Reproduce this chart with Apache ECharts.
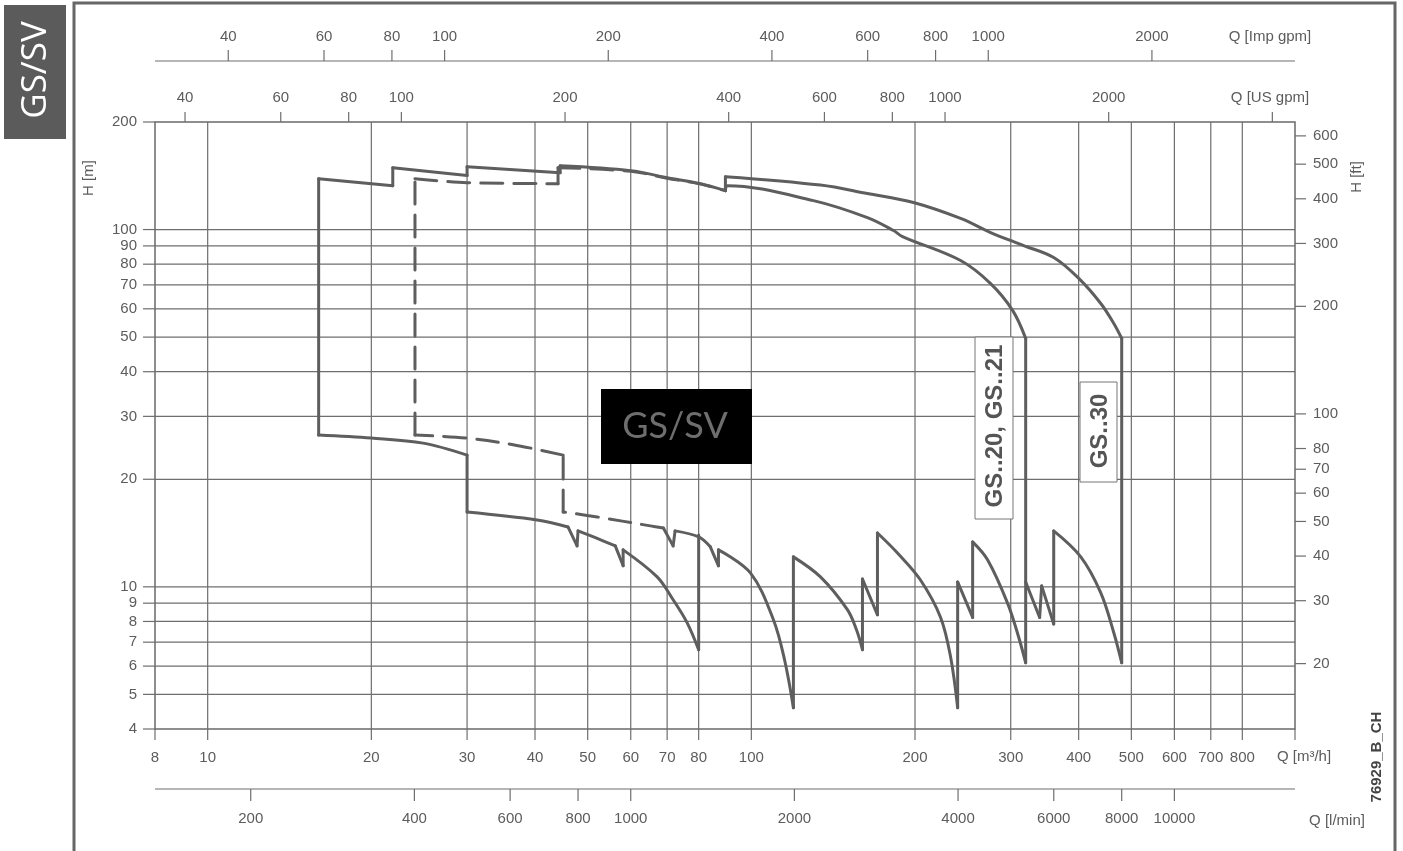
<!DOCTYPE html>
<html><head><meta charset="utf-8">
<script src="https://cdn.jsdelivr.net/npm/echarts@6/dist/echarts.min.js"></script>
<style>html,body{margin:0;padding:0;background:#fff}#c{width:1403px;height:851px}</style>
</head><body><div id="c"></div>
<script>
// ---------- tick / grid values ----------
const qTicksM3h   = [8,10,20,30,40,50,60,70,80,100,200,300,400,500,600,700,800];
const qGridM3h    = [10,20,30,40,50,60,70,80,100,200,300,400,500,600,700,800];
const hTicksM     = [4,5,6,7,8,9,10,20,30,40,50,60,70,80,90,100,200];
const hGridM      = [5,6,7,8,9,10,20,30,40,50,60,70,80,90,100];
const hTicksFt    = [20,30,40,50,60,70,80,100,200,300,400,500,600];
const qTicksUsGpm = [40,60,80,100,200,400,600,800,1000,2000];
const qTicksImpGpm= [40,60,80,100,200,400,600,800,1000,2000];
const qTicksLmin  = [200,400,600,800,1000,2000,4000,6000,8000,10000];

// ---------- curves [Q m3/h, H m]; each chain = list of arcs joined by straight links ----------
const chainSmallFamily = [
  [[89.6,128.5],[80.7,134.4],[70,139.7],[60,146.2],[44.5,150.9]],
  [[44.5,144.3],[30,149.9]],
  [[30,141.6],[21.9,149.0]],
  [[21.9,132.7],[16,138.8]],
  [[16,26.59],[20,26.08],[24.9,25.25],[30,23.37]],
  [[30,16.2],[40.35,15.39],[46.0,14.71]],
  [[47.8,13.02]],
  [[48,14.34],[51.8,13.7],[56.2,13.02]],
  [[58.1,11.45]],
  [[58.1,12.69],[67.1,10.66],[71.8,9.2],[76.2,7.93],[80,6.67]],
  [[80,13.97]]
];
const chainDashed = [
  [[68.9,14.61],[65.2,14.81],[52.06,15.69],[45.07,16.2]],
  [[45.07,23.37],[36.45,25.0],[30,26.08],[24.06,26.59]],
  [[24.06,138.8],[30,135.3],[44.1,134.4]],
  [[44.1,149.0],[60,145.6],[70,139.2],[80.7,134.0],[89.6,128.5]]
];
const chainGS30Top = [
  [[89.6,128.5]],
  [[89.6,140.6],[134,133.2],[163.5,126.1],[198.7,119.0],[242.6,107.4],[275.5,98.1],[316.9,90.2],[359.9,83.5],[400.2,73.0],[439.3,62.1],[464.2,54.6],[480,49.6]],
  [[480,6.13]]
];
const chainGS20Top = [
  [[89.6,128.5],[90.4,132.7],[130.1,120.5],[163.5,108.0],[182.6,99.4],[189.7,95.6],[242.6,81.9],[275.5,70.6],[302.4,59.4],[319.6,49.6]],
  [[319.6,6.13]]
];
const chainBottomA = [
  [[68.9,14.61]],
  [[71.8,13.02]],
  [[72.4,14.34],[80,13.79],[84.05,12.94]],
  [[87,11.45]],
  [[87,12.69],[99.6,10.94],[109.8,8.09],[115.1,6.25],[119.5,4.59]],
  [[119.5,12.13],[134,10.66],[150.2,8.63],[156.1,7.58],[160.1,6.67]],
  [[160.1,10.52],[170.6,8.35]],
  [[170.6,14.15],[185.7,12.44],[204.7,10.45],[222.9,8.21],[232.6,6.35],[239.6,4.59]],
  [[239.6,10.32],[255.3,8.21]],
  [[255.3,13.36],[272.1,11.89],[296.1,8.99],[310.1,7.25],[319.6,6.13]]
];
const chainBottomB = [
  [[319.6,10.32],[339.1,8.21]],
  [[342,10.06],[359.9,7.87]],
  [[359.9,14.34],[403.6,12.13],[439.3,9.62],[464.2,7.44],[480,6.13]]
];

// ---------- unit conversions to m3/h and m ----------
const US_GPM = 0.2271247, IMP_GPM = 0.2727654, LMIN = 0.06, FT = 0.3048;

const X_MIN=8, X_MAX=1000, Y_MIN=4, Y_MAX=200;
const C_LINE='#5e5e5e', C_GRID='#6e6e6e', C_TEXT='#5c5c5c';
const FONT='"Liberation Sans", Arial, sans-serif';

function T(x,y,text,align,va,size,extra){
  return {type:'text', x:x, y:y, silent:true, style:Object.assign({text:text, fill:C_TEXT, fontSize:size||15, fontFamily:FONT, align:align, verticalAlign:va}, extra||{})};
}
function L(x1,y1,x2,y2,w,c){
  return {type:'line', silent:true, shape:{x1:x1,y1:y1,x2:x2,y2:y2}, style:{stroke:c||C_GRID, lineWidth:w||1.2}};
}
function custom(data, render){
  return {type:'custom', coordinateSystem:'cartesian2d', silent:true, clip:false, z:1, animation:false,
    data:data, encode:{x:0,y:1}, renderItem:render};
}

const series = [];
// bottom m3/h axis with vertical grid
series.push(custom(qTicksM3h.map(v=>[v,Y_MIN]), function(p, api){
  const v = api.value(0);
  const b = api.coord([v, Y_MIN]), t = api.coord([v, Y_MAX]);
  const ch = [L(b[0], b[1], b[0], b[1]+11)];
  if (qGridM3h.indexOf(v) >= 0) ch.push(L(b[0], t[1], b[0], b[1]));
  ch.push(T(b[0], b[1]+29, String(v), 'center', 'middle'));
  if (p.dataIndex === 0) { const e = api.coord([X_MAX, Y_MIN]); ch.push(L(e[0], e[1], e[0], e[1]+11)); }
  return {type:'group', children:ch};
}));
// left H m axis with horizontal grid
series.push(custom(hTicksM.map(v=>[X_MIN,v]), function(p, api){
  const v = api.value(1);
  const l = api.coord([X_MIN, v]), r = api.coord([X_MAX, v]);
  const ch = [L(l[0]-12, l[1], l[0], l[1])];
  if (hGridM.indexOf(v) >= 0) ch.push(L(l[0], l[1], r[0], l[1]));
  ch.push(T(l[0]-18, l[1], String(v), 'right', 'middle'));
  return {type:'group', children:ch};
}));
// right H ft axis
series.push(custom(hTicksFt.map(v=>[X_MAX, v*FT]), function(p, api){
  const r = api.coord([X_MAX, api.value(1)]);
  return {type:'group', children:[L(r[0], r[1], r[0]+11, r[1]), T(r[0]+18, r[1], String(hTicksFt[p.dataIndex]), 'left', 'middle')]};
}));
// top US gpm axis
series.push(custom(qTicksUsGpm.map(v=>[v*US_GPM, Y_MAX]), function(p, api){
  const t = api.coord([api.value(0), Y_MAX]);
  const ch = [L(t[0], t[1]-10, t[0], t[1]), T(t[0], t[1]-24, String(qTicksUsGpm[p.dataIndex]), 'center', 'middle')];
  if (p.dataIndex === 0) { const e = api.coord([4000*US_GPM, Y_MAX]); ch.push(L(e[0], e[1]-10, e[0], e[1])); }
  return {type:'group', children:ch};
}));
// top Imp gpm axis
series.push(custom(qTicksImpGpm.map(v=>[v*IMP_GPM, Y_MAX]), function(p, api){
  const t = api.coord([api.value(0), Y_MAX]);
  const y0 = t[1]-61;
  const ch = [L(t[0], y0-11, t[0], y0), T(t[0], y0-24, String(qTicksImpGpm[p.dataIndex]), 'center', 'middle')];
  if (p.dataIndex === 0) { const a = api.coord([X_MIN, Y_MAX]), b = api.coord([X_MAX, Y_MAX]); ch.push(L(a[0], y0, b[0], y0)); }
  return {type:'group', children:ch};
}));
// bottom l/min axis
series.push(custom(qTicksLmin.map(v=>[v*LMIN, Y_MIN]), function(p, api){
  const b = api.coord([api.value(0), Y_MIN]);
  const y0 = b[1]+60;
  const ch = [L(b[0], y0, b[0], y0+12), T(b[0], y0+30, String(qTicksLmin[p.dataIndex]), 'center', 'middle')];
  if (p.dataIndex === 0) { const a = api.coord([X_MIN, Y_MIN]), e = api.coord([X_MAX, Y_MIN]); ch.push(L(a[0], y0, e[0], e[1]+60)); }
  return {type:'group', children:ch};
}));

function lineSeries(data, smooth, dashed){
  return {type:'line', data:data, showSymbol:false, symbol:'none', clip:false, z:5, animation:false, silent:true,
    smooth: smooth ? 0.35 : false,
    lineStyle:{color:C_LINE, width:3, type: dashed ? [22,11] : 'solid', join:'round', cap:'round'}};
}
function addChain(chain, dashed){
  chain.forEach(function(arc, i){
    if (arc.length >= 2) series.push(lineSeries(arc, arc.length >= 3, dashed));
    if (i < chain.length - 1) series.push(lineSeries([arc[arc.length-1], chain[i+1][0]], false, dashed));
  });
}
addChain(chainSmallFamily);
addChain(chainDashed, true);
addChain(chainGS30Top);
addChain(chainGS20Top);
addChain(chainBottomA);
addChain(chainBottomB);

const hiddenAxis = {type:'log', logBase:10, axisLine:{show:false}, axisTick:{show:false}, axisLabel:{show:false}, splitLine:{show:false}};
const option = {
  backgroundColor:'#fff',
  animation:false,
  grid:{left:155, right:108, top:122, bottom:122, show:true, borderColor:'#6a6a6a', borderWidth:1.5, backgroundColor:'transparent'},
  xAxis:Object.assign({min:X_MIN, max:X_MAX}, hiddenAxis),
  yAxis:Object.assign({min:Y_MIN, max:Y_MAX}, hiddenAxis),
  series:series,
  graphic:[
    {type:'polyline', z:100, silent:true, shape:{points:[[74,860],[74,3],[1395,3],[1395,860]]}, style:{stroke:'#666', lineWidth:3, fill:null}},
    {type:'rect', z:100, shape:{x:4,y:5,width:62,height:134}, style:{fill:'#5b5b5b'}},
    {type:'text', z:101, x:36, y:70, rotation:Math.PI/2, style:{text:'GS/SV', fill:'#fff', fontSize:35, fontFamily:'"Open Sans", sans-serif', align:'center', verticalAlign:'middle'}},
    {type:'rect', z:100, shape:{x:601,y:389,width:151,height:75}, style:{fill:'#000'}},
    {type:'text', z:101, x:675, y:426, style:{text:'GS/SV', fill:'#6e6e6e', fontSize:36, fontFamily:'Lato, sans-serif', align:'center', verticalAlign:'middle'}},
    {type:'rect', z:100, shape:{x:975,y:337,width:38,height:182}, style:{fill:'#fff', stroke:'#777', lineWidth:1}},
    {type:'text', z:101, x:995, y:426, rotation:Math.PI/2, style:{text:'GS..20, GS..21', fill:'#555', fontSize:24, fontWeight:'bold', fontFamily:FONT, align:'center', verticalAlign:'middle'}},
    {type:'rect', z:100, shape:{x:1080,y:382,width:37,height:100}, style:{fill:'#fff', stroke:'#777', lineWidth:1}},
    {type:'text', z:101, x:1100, y:431, rotation:Math.PI/2, style:{text:'GS..30', fill:'#555', fontSize:24, fontWeight:'bold', fontFamily:FONT, align:'center', verticalAlign:'middle'}},
    {type:'text', z:101, x:1270, y:37, style:{text:'Q [Imp gpm]', fill:C_TEXT, fontSize:15, fontFamily:FONT, align:'center', verticalAlign:'middle'}},
    {type:'text', z:101, x:1270, y:98, style:{text:'Q [US gpm]', fill:C_TEXT, fontSize:15, fontFamily:FONT, align:'center', verticalAlign:'middle'}},
    {type:'text', z:101, x:1304, y:757, style:{text:'Q [m³/h]', fill:C_TEXT, fontSize:15, fontFamily:FONT, align:'center', verticalAlign:'middle'}},
    {type:'text', z:101, x:1337, y:821, style:{text:'Q [l/min]', fill:C_TEXT, fontSize:15, fontFamily:FONT, align:'center', verticalAlign:'middle'}},
    {type:'text', z:101, x:89, y:178, rotation:Math.PI/2, style:{text:'H [m]', fill:C_TEXT, fontSize:15, fontFamily:FONT, align:'center', verticalAlign:'middle'}},
    {type:'text', z:101, x:1357, y:177, rotation:Math.PI/2, style:{text:'H [ft]', fill:C_TEXT, fontSize:15, fontFamily:FONT, align:'center', verticalAlign:'middle'}},
    {type:'text', z:101, x:1377, y:757, rotation:Math.PI/2, style:{text:'76929_B_CH', fill:'#444', fontSize:15, fontWeight:'bold', fontFamily:FONT, align:'center', verticalAlign:'middle'}}
  ]
};
const chart = echarts.init(document.getElementById('c'));
chart.setOption(option);
</script>
</body></html>
